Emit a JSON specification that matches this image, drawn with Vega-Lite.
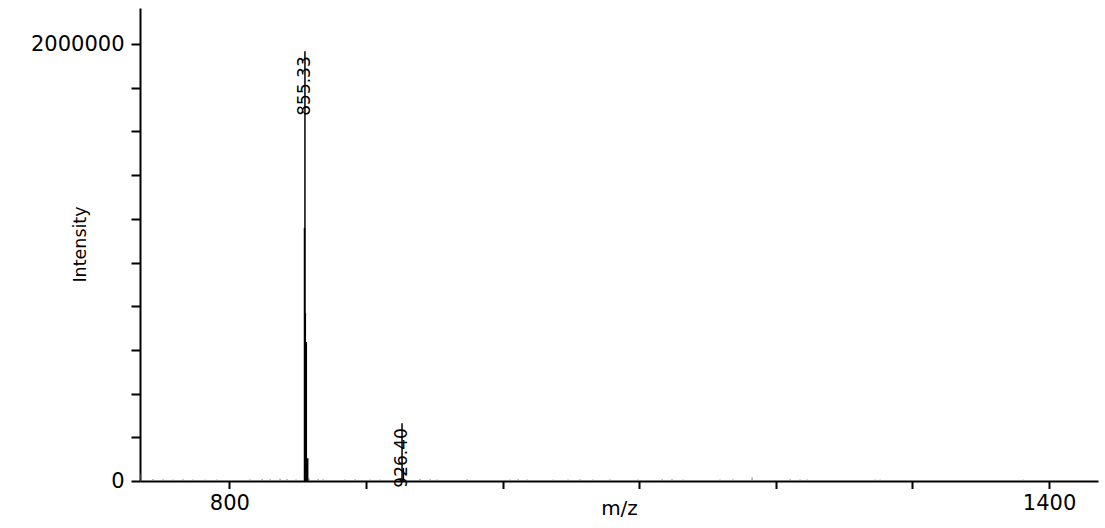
{
  "$schema": "https://vega.github.io/schema/vega-lite/v6.json",
  "width": 958,
  "height": 473,
  "autosize": {"type": "none"},
  "padding": {"left": 140, "top": 8, "right": 7, "bottom": 47},
  "background": "white",
  "config": {
    "view": {"stroke": null},
    "font": "DejaVu Sans"
  },
  "data": {
    "values": [
      {"mz": 735.4, "intensity": 34000},
      {"mz": 744.1, "intensity": 9000},
      {"mz": 751.4, "intensity": 8000},
      {"mz": 758.8, "intensity": 7000},
      {"mz": 766.1, "intensity": 8000},
      {"mz": 773.4, "intensity": 7000},
      {"mz": 782.2, "intensity": 6500},
      {"mz": 791.0, "intensity": 7000},
      {"mz": 815.1, "intensity": 7500},
      {"mz": 823.9, "intensity": 9000},
      {"mz": 829.8, "intensity": 8000},
      {"mz": 837.1, "intensity": 10000},
      {"mz": 842.2, "intensity": 9000},
      {"mz": 848.8, "intensity": 7000},
      {"mz": 855.0, "intensity": 1158000},
      {"mz": 855.33, "intensity": 1967000, "label": "855.33"},
      {"mz": 855.6, "intensity": 769000},
      {"mz": 856.33, "intensity": 636000},
      {"mz": 857.33, "intensity": 104000},
      {"mz": 858.3, "intensity": 12000},
      {"mz": 864.9, "intensity": 9000},
      {"mz": 868.5, "intensity": 8000},
      {"mz": 884.7, "intensity": 7000},
      {"mz": 892.0, "intensity": 8000},
      {"mz": 903.0, "intensity": 7000},
      {"mz": 910.3, "intensity": 6500},
      {"mz": 926.4, "intensity": 264600, "label": "926.40"},
      {"mz": 927.4, "intensity": 60000},
      {"mz": 939.6, "intensity": 9000},
      {"mz": 946.9, "intensity": 8000},
      {"mz": 952.0, "intensity": 7000},
      {"mz": 974.0, "intensity": 8000},
      {"mz": 1005.4, "intensity": 7000},
      {"mz": 1011.3, "intensity": 8000},
      {"mz": 1017.9, "intensity": 7000},
      {"mz": 1036.9, "intensity": 6500},
      {"mz": 1047.9, "intensity": 7000},
      {"mz": 1056.7, "intensity": 8000},
      {"mz": 1066.2, "intensity": 7000},
      {"mz": 1078.6, "intensity": 7500},
      {"mz": 1099.1, "intensity": 7000},
      {"mz": 1116.7, "intensity": 8000},
      {"mz": 1124.0, "intensity": 8500},
      {"mz": 1132.0, "intensity": 7000},
      {"mz": 1159.1, "intensity": 7000},
      {"mz": 1168.6, "intensity": 7500},
      {"mz": 1182.6, "intensity": 16000},
      {"mz": 1210.4, "intensity": 8000},
      {"mz": 1217.7, "intensity": 7000},
      {"mz": 1222.8, "intensity": 7000},
      {"mz": 1272.6, "intensity": 6500},
      {"mz": 1276.3, "intensity": 6500},
      {"mz": 1381.0, "intensity": 6500}
    ]
  },
  "encoding": {
    "x": {
      "field": "mz",
      "type": "quantitative",
      "scale": {"domain": [734.6, 1435.8], "nice": false, "zero": false},
      "axis": {
        "values": [800, 900, 1000, 1100, 1200, 1300, 1400],
        "labelExpr": "datum.value == 800 || datum.value == 1400 ? datum.value : ''",
        "grid": false,
        "domainColor": "black",
        "domainWidth": 2,
        "tickColor": "black",
        "tickWidth": 2,
        "tickSize": 7.5,
        "labelFont": "DejaVu Sans",
        "labelFontSize": 21,
        "labelColor": "black",
        "labelBaseline": "alphabetic",
        "labelPadding": 21,
        "title": "m/z",
        "titleFont": "DejaVu Sans",
        "titleFontSize": 20,
        "titleFontWeight": "normal",
        "titleColor": "black",
        "titleBaseline": "alphabetic",
        "titleAlign": "center",
        "titleX": 479,
        "titleY": 33
      }
    },
    "y": {
      "field": "intensity",
      "type": "quantitative",
      "scale": {"domain": [0, 2165000], "nice": false, "zero": true},
      "axis": {
        "values": [0, 200000, 400000, 600000, 800000, 1000000, 1200000, 1400000, 1600000, 1800000, 2000000],
        "labelExpr": "datum.value == 0 || datum.value == 2000000 ? format(datum.value, 'd') : ''",
        "grid": false,
        "domainColor": "black",
        "domainWidth": 2,
        "tickColor": "black",
        "tickWidth": 2,
        "tickSize": 9,
        "labelFont": "DejaVu Sans",
        "labelFontSize": 21,
        "labelColor": "black",
        "labelPadding": 7,
        "labelBaseline": "middle",
        "title": "Intensity",
        "titleFont": "DejaVu Sans",
        "titleFontSize": 17.5,
        "titleFontWeight": "normal",
        "titleColor": "black",
        "titleAngle": 270,
        "titleAlign": "center",
        "titleBaseline": "middle",
        "titleX": -60,
        "titleY": 236
      }
    }
  },
  "layer": [
    {
      "transform": [{"filter": "datum.intensity < 50000"}],
      "mark": {"type": "rule", "color": "#777777", "strokeWidth": 1},
      "encoding": {"y2": {"datum": 0}}
    },
    {
      "transform": [{"filter": "datum.intensity >= 50000"}],
      "mark": {"type": "rule", "color": "black", "strokeWidth": 1.5},
      "encoding": {"y2": {"datum": 0}}
    },
    {
      "transform": [{"filter": "isValid(datum.label)"}],
      "mark": {
        "type": "text",
        "angle": 270,
        "align": "right",
        "baseline": "middle",
        "dx": -5,
        "font": "DejaVu Sans",
        "fontSize": 17,
        "color": "black"
      },
      "encoding": {
        "text": {"field": "label"}
      }
    }
  ]
}
